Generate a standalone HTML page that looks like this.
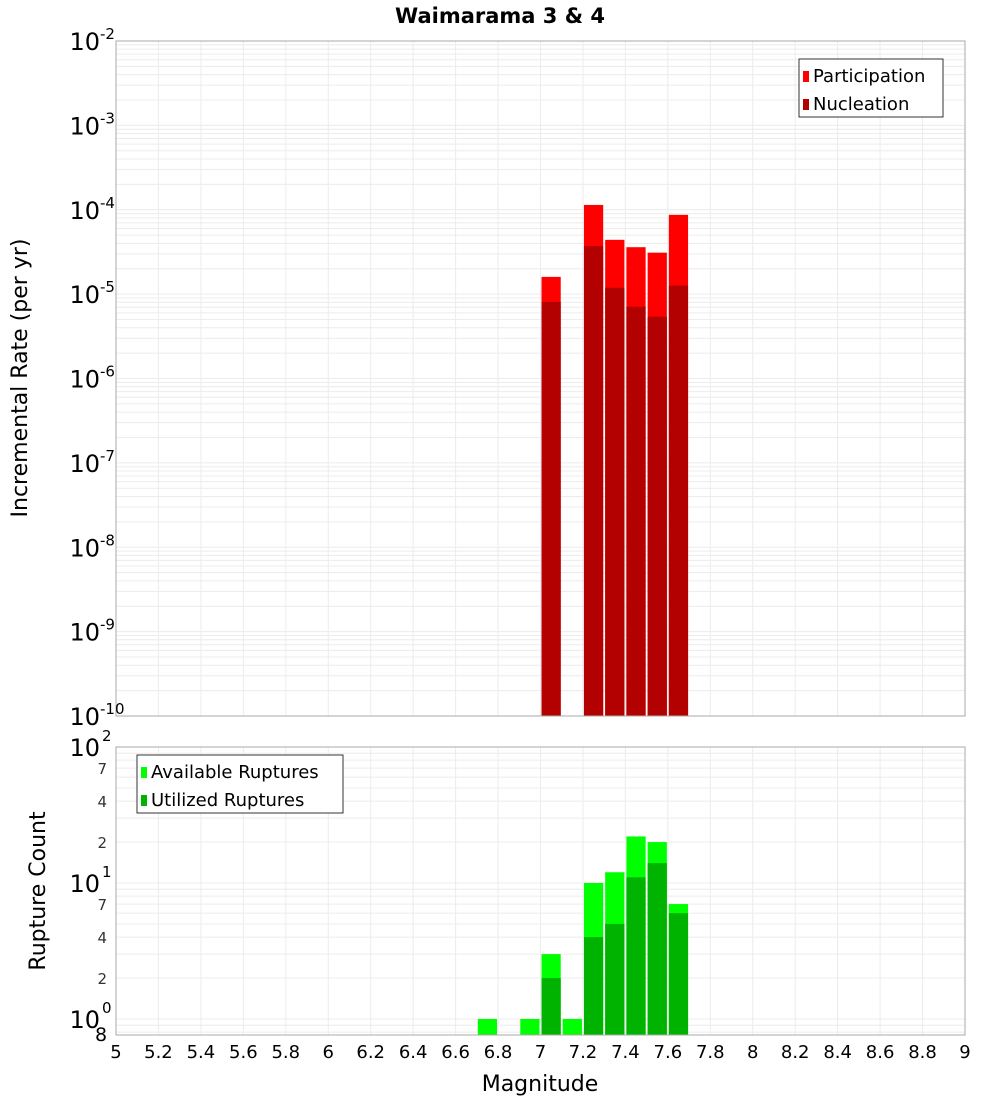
<!DOCTYPE html>
<html><head><meta charset="utf-8"><style>
body{margin:0;background:#fff;}
svg text{font-family:"DejaVu Sans","Liberation Sans",sans-serif;}
</style></head><body>
<svg id="c" width="1000" height="1100" xmlns="http://www.w3.org/2000/svg">
<text x="500" y="23" text-anchor="middle" font-size="21" font-weight="bold">Waimarama 3 &amp; 4</text>
<g id="topg"></g><g id="botg"></g><g id="xax"></g>
<text x="540" y="1091" text-anchor="middle" font-size="22">Magnitude</text>
<text transform="translate(27,378) rotate(-90)" text-anchor="middle" font-size="22">Incremental Rate (per yr)</text>
<text transform="translate(45,891) rotate(-90)" text-anchor="middle" font-size="22">Rupture Count</text>
</svg>
<script>
const mags = [7.0, 7.2, 7.3, 7.4, 7.5, 7.6];
const participation = [1.6e-5, 1.14e-4, 4.4e-5, 3.6e-5, 3.1e-5, 8.7e-5];
const nucleation = [8.1e-6, 3.7e-5, 1.19e-5, 7.1e-6, 5.4e-6, 1.26e-5];
const countMags = [6.7, 6.9, 7.0, 7.1, 7.2, 7.3, 7.4, 7.5, 7.6];
const available = [1, 1, 3, 1, 10, 12, 22, 20, 7];
const utilized = [0, 0, 2, 0, 4, 5, 11, 14, 6];
const xTicks = [5,5.2,5.4,5.6,5.8,6,6.2,6.4,6.6,6.8,7,7.2,7.4,7.6,7.8,8,8.2,8.4,8.6,8.8,9];
const topExps = [-2,-3,-4,-5,-6,-7,-8,-9,-10];
const botTickVals = [70,40,20,7,4,2];

const NS="http://www.w3.org/2000/svg";
const L=116,R=965;
const xs=m=>L+(m-5)*(R-L)/4;
const T1=41,B1=716; const yt=v=>T1+(-2-Math.log10(v))*(B1-T1)/8;
const T2=747,B2=1035; const yb=v=>T2+(2-Math.log10(v))*136;
function mk(p,tag,a,txt){const e=document.createElementNS(NS,tag);for(const k in a)e.setAttribute(k,a[k]);if(txt!==undefined)e.textContent=txt;p.appendChild(e);return e;}
const gTop=document.getElementById('topg'),gBot=document.getElementById('botg'),xax=document.getElementById('xax');

function vgrid(g,t,b){xTicks.forEach(m=>{const l=mk(g,'line',{x1:xs(m),x2:xs(m),y1:t,y2:b,stroke:'#ececec'});

});}
vgrid(gTop,T1,B1);vgrid(gBot,T2,B2);
for(let e=-10;e<-2;e++)for(let k=1;k<10;k++){const y=yt(k*Math.pow(10,e));const l=mk(gTop,'line',{x1:L,x2:R,y1:y,y2:y,stroke:'#ececec'});

}
for(let e=-1;e<2;e++)for(let k=1;k<10;k++){const v=k*Math.pow(10,e);const y=yb(v);if(y>B2)continue;const l=mk(gBot,'line',{x1:L,x2:R,y1:y,y2:y,stroke:'#ececec'});

}

const bw=(R-L)/40;
mags.forEach((m,i)=>{
 const r1=mk(gTop,'rect',{x:xs(m)+1,y:yt(participation[i]),width:bw-2,height:B1-yt(participation[i]),fill:'#ff0000'});
 
 
 const r2=mk(gTop,'rect',{x:xs(m)+1,y:yt(nucleation[i]),width:bw-2,height:B1-yt(nucleation[i]),fill:'#b30000'});
 
 
});
countMags.forEach((m,i)=>{
 if(available[i]>0){const r=mk(gBot,'rect',{x:xs(m)+1,y:yb(available[i]),width:bw-2,height:B2-yb(available[i]),fill:'#00ff00'});
 
 }
 if(utilized[i]>0){const r=mk(gBot,'rect',{x:xs(m)+1,y:yb(utilized[i]),width:bw-2,height:B2-yb(utilized[i]),fill:'#00b300'});
 
 }
});
const f1=mk(gTop,'rect',{x:L,y:T1,width:R-L,height:B1-T1,fill:'none',stroke:'#aaa'});


const f2=mk(gBot,'rect',{x:L,y:T2,width:R-L,height:B2-T2,fill:'none',stroke:'#aaa'});



topExps.forEach(e=>{const y=yt(Math.pow(10,e));
 const t=mk(gTop,'text',{x:100,y:y+9,'text-anchor':'end','font-size':24},'10');
 
 
 const s=mk(gTop,'text',{x:100,y:y-2,'font-size':15},String(e));
 
 });
[[100,'2'],[10,'1'],[1,'0']].forEach(([v,e])=>{const y=yb(v);
 const t=mk(gBot,'text',{x:100,y:y+9,'text-anchor':'end','font-size':24},'10');
 
 
 const s=mk(gBot,'text',{x:102,y:y-6,'font-size':15},e);
 
 });
botTickVals.forEach(v=>{const k=String(v)[0];const t=mk(gBot,'text',{x:107,y:yb(v)+6,'text-anchor':'end','font-size':15,fill:'#333'},k);
 
 });
const e8=mk(gBot,'text',{x:101,y:1041,'text-anchor':'middle','font-size':19},'8');


xTicks.forEach(m=>{const t=mk(xax,'text',{x:xs(m),y:1058,'text-anchor':'middle','font-size':18},String(m));
 
 });
function legend(g,x,y,w,items,name){const lg=mk(g,'g',{});
 
 
 mk(lg,'rect',{x:x,y:y,width:w,height:58,fill:'#fff',stroke:'#333'});
 items.forEach(([c,l],i)=>{mk(lg,'rect',{x:x+4,y:y+12+i*28,width:6,height:11,fill:c});
  const t=mk(lg,'text',{x:x+14,y:y+23+i*28,'font-size':18},l);
  
  });}
legend(gTop,799,59,144,[['#ff0000','Participation'],['#b30000','Nucleation']],'top-legend');
legend(gBot,137,755,206,[['#00ff00','Available Ruptures'],['#00b300','Utilized Ruptures']],'bottom-legend');
</script>
</body></html>
